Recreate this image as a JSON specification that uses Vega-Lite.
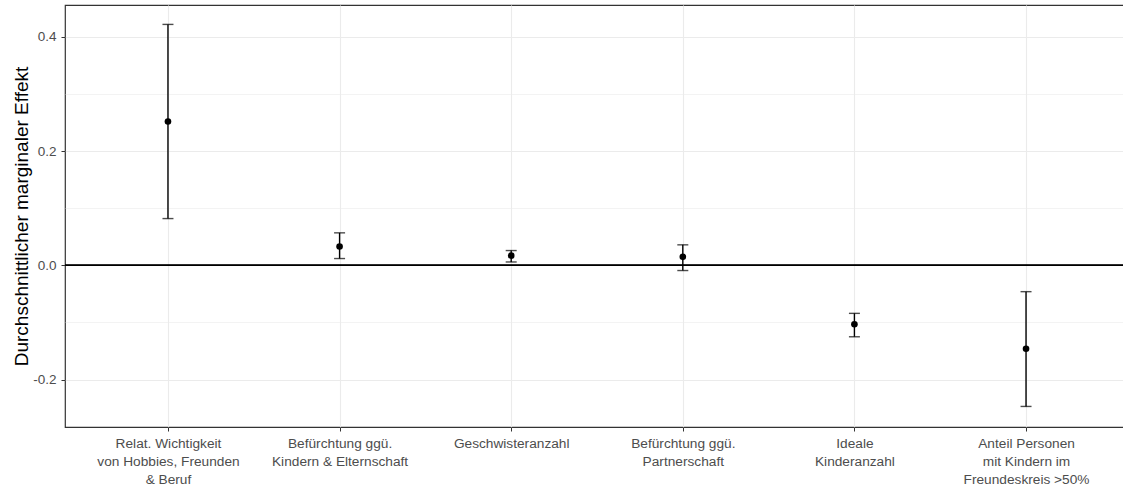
{
  "$schema": "https://vega.github.io/schema/vega-lite/v6.json",
  "autosize": "none",
  "padding": {"left": 65, "top": 5, "right": -6, "bottom": 62},
  "width": 1064,
  "height": 422,
  "background": "white",
  "config": {
    "view": {"stroke": "#333333", "strokeWidth": 1.2},
    "font": "Liberation Sans",
    "axis": {"labelFont": "Liberation Sans", "titleFont": "Liberation Sans"}
  },
  "data": {
    "values": [
      {"label": "Relat. Wichtigkeit|von Hobbies, Freunden|& Beruf", "est": 0.252, "lo": 0.082, "hi": 0.422},
      {"label": "Befürchtung ggü.|Kindern & Elternschaft", "est": 0.033, "lo": 0.012, "hi": 0.057},
      {"label": "Geschwisteranzahl", "est": 0.017, "lo": 0.006, "hi": 0.026},
      {"label": "Befürchtung ggü.|Partnerschaft", "est": 0.015, "lo": -0.009, "hi": 0.036},
      {"label": "Ideale|Kinderanzahl", "est": -0.103, "lo": -0.125, "hi": -0.084},
      {"label": "Anteil Personen|mit Kindern im|Freundeskreis >50%", "est": -0.146, "lo": -0.247, "hi": -0.046}
    ]
  },
  "encoding": {
    "x": {
      "field": "label", "type": "nominal", "sort": null,
      "scale": {"type": "point", "padding": 0.6},
      "axis": {
        "title": null, "labelAngle": 0, "domain": false,
        "labelExpr": "split(datum.label, '|')",
        "labelFontSize": 13.7, "labelColor": "#4d4d4d", "labelLineHeight": 18,
        "labelPadding": 5, "tickSize": 4, "tickColor": "#333333",
        "grid": true, "gridColor": "#ebebeb", "gridWidth": 1.1
      }
    }
  },
  "layer": [
    {
      "mark": {"type": "rule", "color": "black", "strokeWidth": 1.2},
      "encoding": {
        "x": null,
        "y": {"datum": 0, "type": "quantitative",
          "scale": {"domain": [-0.283, 0.456], "nice": false, "zero": false},
          "axis": {
            "title": "Durchschnittlicher marginaler Effekt",
            "titleFontSize": 19, "titleFontWeight": "normal", "titleColor": "black", "titlePadding": 1,
            "values": [-0.2, -0.1, 0, 0.1, 0.2, 0.3, 0.4],
            "labelExpr": "abs(round(datum.value*10)) % 2 == 0 ? ((datum.value < -0.001 ? '-' : '') + format(abs(datum.value), '.1f')) : ''",
            "labelFontSize": 13.5, "labelColor": "#4d4d4d", "labelPadding": 5,
            "domain": false, "tickSize": 4, "tickColor": "#333333",
            "tickOpacity": {"condition": {"test": "abs(round(datum.value*10)) % 2 == 1", "value": 0}, "value": 1},
            "grid": true, "gridColor": "#ebebeb",
            "gridWidth": {"condition": {"test": "abs(round(datum.value*10)) % 2 == 1", "value": 0.6}, "value": 1.1}
          }
        }
      }
    },
    {
      "mark": {"type": "rule", "color": "black", "strokeWidth": 1.4},
      "encoding": {
        "y": {"field": "lo", "type": "quantitative", "scale": {"domain": [-0.283, 0.456], "nice": false, "zero": false}},
        "y2": {"field": "hi"}
      }
    },
    {
      "mark": {"type": "tick", "color": "black", "size": 11, "thickness": 1.4},
      "encoding": {"y": {"field": "lo", "type": "quantitative"}}
    },
    {
      "mark": {"type": "tick", "color": "black", "size": 11, "thickness": 1.4},
      "encoding": {"y": {"field": "hi", "type": "quantitative"}}
    },
    {
      "mark": {"type": "point", "filled": true, "color": "black", "opacity": 1, "size": 44},
      "encoding": {"y": {"field": "est", "type": "quantitative"}}
    }
  ],
  "resolve": {"scale": {"y": "shared"}}
}
